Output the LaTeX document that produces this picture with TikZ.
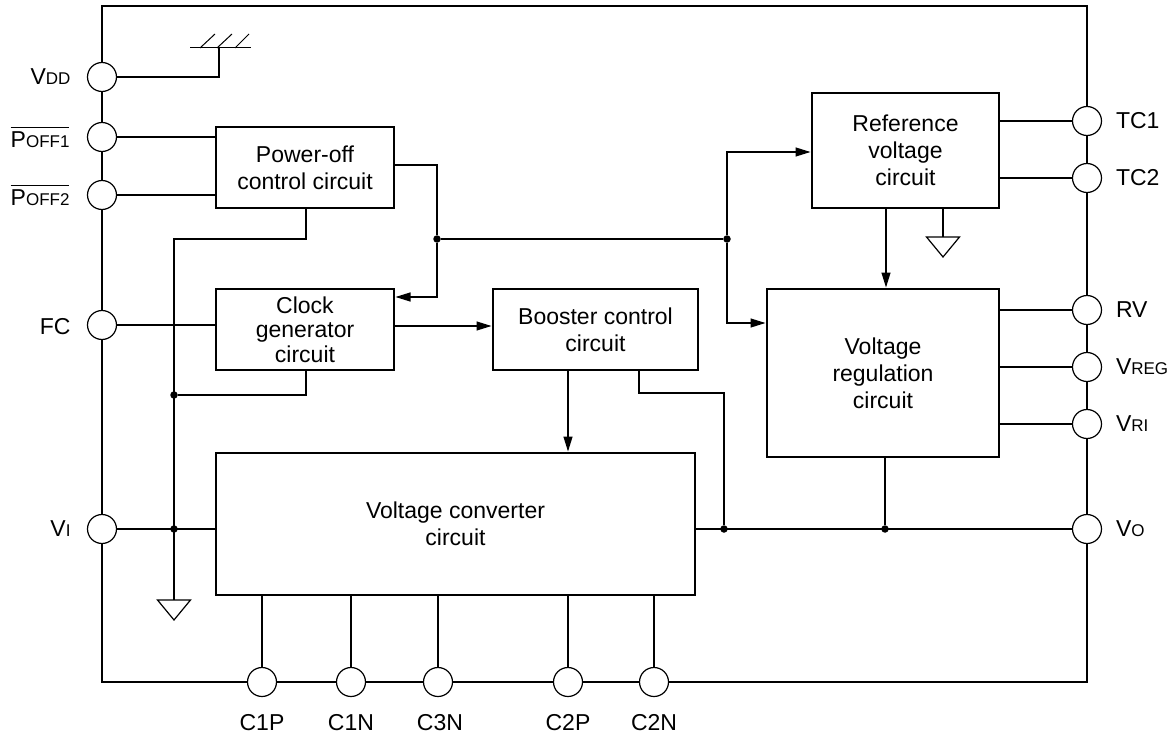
\documentclass[tikz,border=0pt]{standalone}
\usepackage{fontspec}
\setmainfont{Liberation Sans}
\usetikzlibrary{positioning,arrows.meta,shapes.geometric}
\newcommand{\smc}[2]{#1{\fontsize{17}{20}\selectfont #2}}
\newcommand{\barred}[2]{$\overline{\hbox{\rule{0pt}{19pt}\smc{#1}{#2}}}$}

\begin{document}
\begin{tikzpicture}[x=1pt, y=-1pt, line width=1.2pt, font=\fontsize{23}{27}\selectfont,
    box/.style={draw,align=center,inner sep=0pt,outer sep=0pt},
    pad/.style={draw,circle,fill=white,minimum size=29pt,inner sep=0pt,outer sep=0pt},
    padtext/.style={inner sep=0pt,outer sep=0pt},
    dot/.style={circle,fill=black,minimum size=7.5pt,inner sep=0pt,outer sep=0pt},
    gnd/.style={draw,isosceles triangle,isosceles triangle apex angle=79,shape border rotate=-90,
                isosceles triangle stretches=true,minimum height=20pt,minimum width=33pt,
                inner sep=0pt,outer sep=0pt,anchor=lower side},
    arr/.style={-{Stealth[length=15pt,width=9pt,inset=0pt]},shorten >=1.5pt}]
    \useasboundingbox (0,0) rectangle (1175,738);
    \node[box,minimum width=985pt,minimum height=676pt] (chip) at (594.5,344) {};

    \node[box,minimum width=178pt,minimum height=81pt] (power) at (305,167.5) {Power-off\\control circuit};
    \node[box,minimum width=178pt,minimum height=81pt,below=81pt of power] (clock) {Clock\\[-2.5pt]generator\\[-2.5pt]circuit};
    \node[box,minimum width=205pt,minimum height=81pt,right=99pt of clock] (boost) {Booster control\\circuit};
    \node[box,minimum width=479pt,minimum height=142pt,below=83pt of clock.south west,anchor=north west] (conv) {Voltage converter\\circuit};
    \node[box,minimum width=187pt,minimum height=115pt] (refv) at (905.5,150.5) {Reference\\voltage\\circuit};
    \node[box,minimum width=232pt,minimum height=168pt,below=81pt of refv.south east,anchor=north east] (reg) {Voltage\\regulation\\circuit};

    \node[pad] (vdd) at (102,77) {};
    \node[pad] (poff1) at (102,137) {};
    \node[pad] (poff2) at (102,195) {};
    \node[pad] (fc) at (102,325) {};
    \node[pad] (vi) at (102,529) {};
    \node[pad] (tc1) at (1087,121) {};
    \node[pad] (tc2) at (1087,178) {};
    \node[pad] (rv) at (1087,310) {};
    \node[pad] (vreg) at (1087,367) {};
    \node[pad] (vri) at (1087,424) {};
    \node[pad] (vo) at (1087,529) {};
    \node[pad] (c1p) at (262,682) {};
    \node[pad] (c1n) at (351,682) {};
    \node[pad] (c3n) at (438,682) {};
    \node[pad] (c2p) at (568,682) {};
    \node[pad] (c2n) at (654,682) {};

    \node[padtext,left=17pt of vdd] (vddtext) {\smc{V}{DD}};
    \node[padtext,left=18pt of poff1] (poff1text) {\barred{P}{OFF1}};
    \node[padtext,left=18pt of poff2] (poff2text) {\barred{P}{OFF2}};
    \node[padtext,left=17pt of fc,yshift=-2pt] (fctext) {FC};
    \node[padtext,left=17pt of vi] (vitext) {\smc{V}{I}};
    \node[padtext,right=14.5pt of tc1] (tc1text) {TC1};
    \node[padtext,right=14.5pt of tc2] (tc2text) {TC2};
    \node[padtext,right=14.5pt of rv] (rvtext) {RV};
    \node[padtext,right=14.5pt of vreg] (vregtext) {\smc{V}{REG}};
    \node[padtext,right=14.5pt of vri] (vritext) {\smc{V}{RI}};
    \node[padtext,right=14.5pt of vo] (votext) {\smc{V}{O}};
    \node[padtext,below=18pt of c1p] (c1ptext) {C1P};
    \node[padtext,below=18pt of c1n] (c1ntext) {C1N};
    \node[padtext,below=18pt of c3n,xshift=2pt] (c3ntext) {C3N};
    \node[padtext,below=18pt of c2p] (c2ptext) {C2P};
    \node[padtext,below=18pt of c2n] (c2ntext) {C2N};

    \node[dot] (j1) at (437,239) {};
    \node[dot] (j2) at (727,239) {};
    \node[dot] (j3) at (174,395) {};
    \node[dot] (j4) at (174,529) {};
    \node[dot] (j5) at (724,529) {};
    \node[dot] (j6) at (885,529) {};
    \node[gnd] (gnd1) at (174,600) {};
    \node[gnd] (gnd2) at (943,237) {};
    \coordinate (earth) at (219,48);
    \coordinate (earthl) at (190,48);
    \coordinate (earthr) at (251,48);

    \draw (vdd) -| (earth);
    \draw[line width=1pt] (earthl) -- (earthr);
    \draw[line width=1pt] (200,48) -- (215,34) (217,48) -- (232,34) (235,48) -- (249,34);
    \draw (poff1) -- (power.west |- poff1);
    \draw (poff2) -- (power.west |- poff2);
    \draw (fc) -- (clock.west |- fc);
    \draw (vi) -- (conv.west |- vi);
    \draw (power.east |- 0,165) -| (j1);
    \draw[arr] (j1) |- (clock.east |- 0,297);
    \draw (j1) -- (j2);
    \draw[arr] (j2) |- (refv.west |- 0,152);
    \draw[arr] (j2) |- (reg.west |- 0,323);
    \draw (306,208) |- (174,239) -- (gnd1.lower side);
    \draw (306,370) |- (j3);
    \draw[arr] (clock.east |- 0,326) -- (boost.west |- 0,326);
    \draw[arr] (568,370) -- (568,453);
    \draw (639,370) |- (724,393) -- (j5);
    \draw (conv.east |- vo) -- (vo);
    \draw (reg.south -| j6) -- (j6);
    \draw[arr] (886,208) -- (886,289);
    \draw (gnd2.lower side |- refv.south) -- (gnd2.lower side);
    \draw (refv.east |- tc1) -- (tc1);
    \draw (refv.east |- tc2) -- (tc2);
    \draw (reg.east |- rv) -- (rv);
    \draw (reg.east |- vreg) -- (vreg);
    \draw (reg.east |- vri) -- (vri);
    \draw (conv.south -| c1p) -- (c1p);
    \draw (conv.south -| c1n) -- (c1n);
    \draw (conv.south -| c3n) -- (c3n);
    \draw (conv.south -| c2p) -- (c2p);
    \draw (conv.south -| c2n) -- (c2n);
  \end{tikzpicture}
\end{document}
